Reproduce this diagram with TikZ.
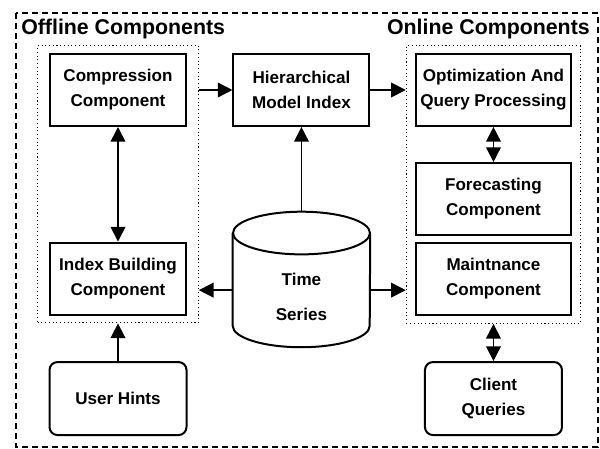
\documentclass[tikz,border=0pt]{standalone}
\usepackage{fontspec}
\setmainfont{Liberation Sans}
\usepackage{tikz}
\usetikzlibrary{arrows.meta, fit}

\begin{document}
\begin{tikzpicture}[node distance=137.6pt]

\tikzstyle{component} = [rectangle, minimum width=102pt, minimum height=54pt, text centered, align=center, draw=black, line width=1.5pt, font=\bfseries\fontsize{12.8pt}{18.75pt}\selectfont]
\tikzstyle{widecomponent} = [component, minimum width=116.25pt]
\tikzstyle{userbox} = [component, rounded corners=6pt, minimum width=102.75pt, minimum height=54.75pt]
\tikzstyle{database} = [rectangle, minimum width=102.75pt, minimum height=101.25pt, inner sep=0pt]
\tikzstyle{group} = [rectangle, draw=black, line width=0.8pt, dotted]
\tikzstyle{title} = [font=\bfseries\fontsize{16pt}{19pt}\selectfont, inner sep=0pt]
\tikzstyle{arrow} = [line width=1.2pt, -{Triangle[length=11pt,width=11pt]}]
\tikzstyle{dblarrow} = [line width=1.2pt, {Triangle[length=11pt,width=11pt]}-{Triangle[length=11pt,width=11pt]}]

\useasboundingbox (0,0) rectangle (450pt,-336.75pt);
\draw [line width=1.5pt, dash pattern=on 4.5pt off 3pt] (12pt,-9.75pt) rectangle (448.5pt,-335.25pt);

% Nodes
\node (comp) [component] at (88.5pt,-67.5pt) {Compression\\Component};
\node (hier) [component, right of=comp] {Hierarchical\\Model Index};
\node (optim) [widecomponent, right of=hier, xshift=6.4pt] {Optimization And\\Query Processing};
\node (forecast) [widecomponent, below of=optim, node distance=81.75pt] {Forecasting\\Component};
\node (maint) [widecomponent, below of=forecast, node distance=60pt] {Maintnance\\Component};
\node (index) [component, below of=comp, node distance=141.4pt] {Index Building\\Component};
\node (series) [database, below of=hier, node distance=142.1pt, label={[yshift=-13pt, align=center, font=\bfseries\fontsize{12.8pt}{26pt}\selectfont]center:Time\\Series}] {};
\node (hints) [userbox, below of=index, node distance=90pt] {User Hints};
\node (client) [userbox, below of=maint, node distance=89.65pt] {Client\\Queries};

% Cylinder outline
\draw [line width=1.5pt] ([yshift=-16pt]series.north west) -- ([yshift=16pt]series.south west)
  arc [start angle=180, end angle=360, x radius=51.375pt, y radius=16pt] -- ([yshift=-16pt]series.north east);
\draw [line width=1.5pt] ([yshift=-16pt]series.north) ellipse [x radius=51.375pt, y radius=16pt];

% Groups
\node (offline) [group, fit=(comp)(index), inner xsep=8.5pt, inner ysep=5.5pt] {};
\node (online) [group, fit=(optim)(maint), inner xsep=6.5pt, inner ysep=5.5pt] {};
\node (offtitle) [title, anchor=base west] at (15.75pt,-26.25pt) {Offline Components};
\node (ontitle) [title, anchor=base east] at (442.5pt,-26.25pt) {Online Components};

% Arrows
\draw [arrow] (offline.east |- comp) -- (hier);
\draw [arrow] (hier) -- (online.west |- hier);
\draw [dblarrow] (comp) -- (index);
\draw [arrow] (series) -- (hier);
\draw [arrow] ([yshift=-8pt]series.west) -- ([yshift=-8pt]series.west -| offline.east);
\draw [arrow] ([yshift=-8pt]series.east) -- ([yshift=-8pt]series.east -| online.west);
\draw [dblarrow] (optim) -- (forecast);
\draw [arrow] (hints) -- (hints |- offline.south);
\draw [dblarrow] (client) -- (client |- online.south);

\end{tikzpicture}
\end{document}
